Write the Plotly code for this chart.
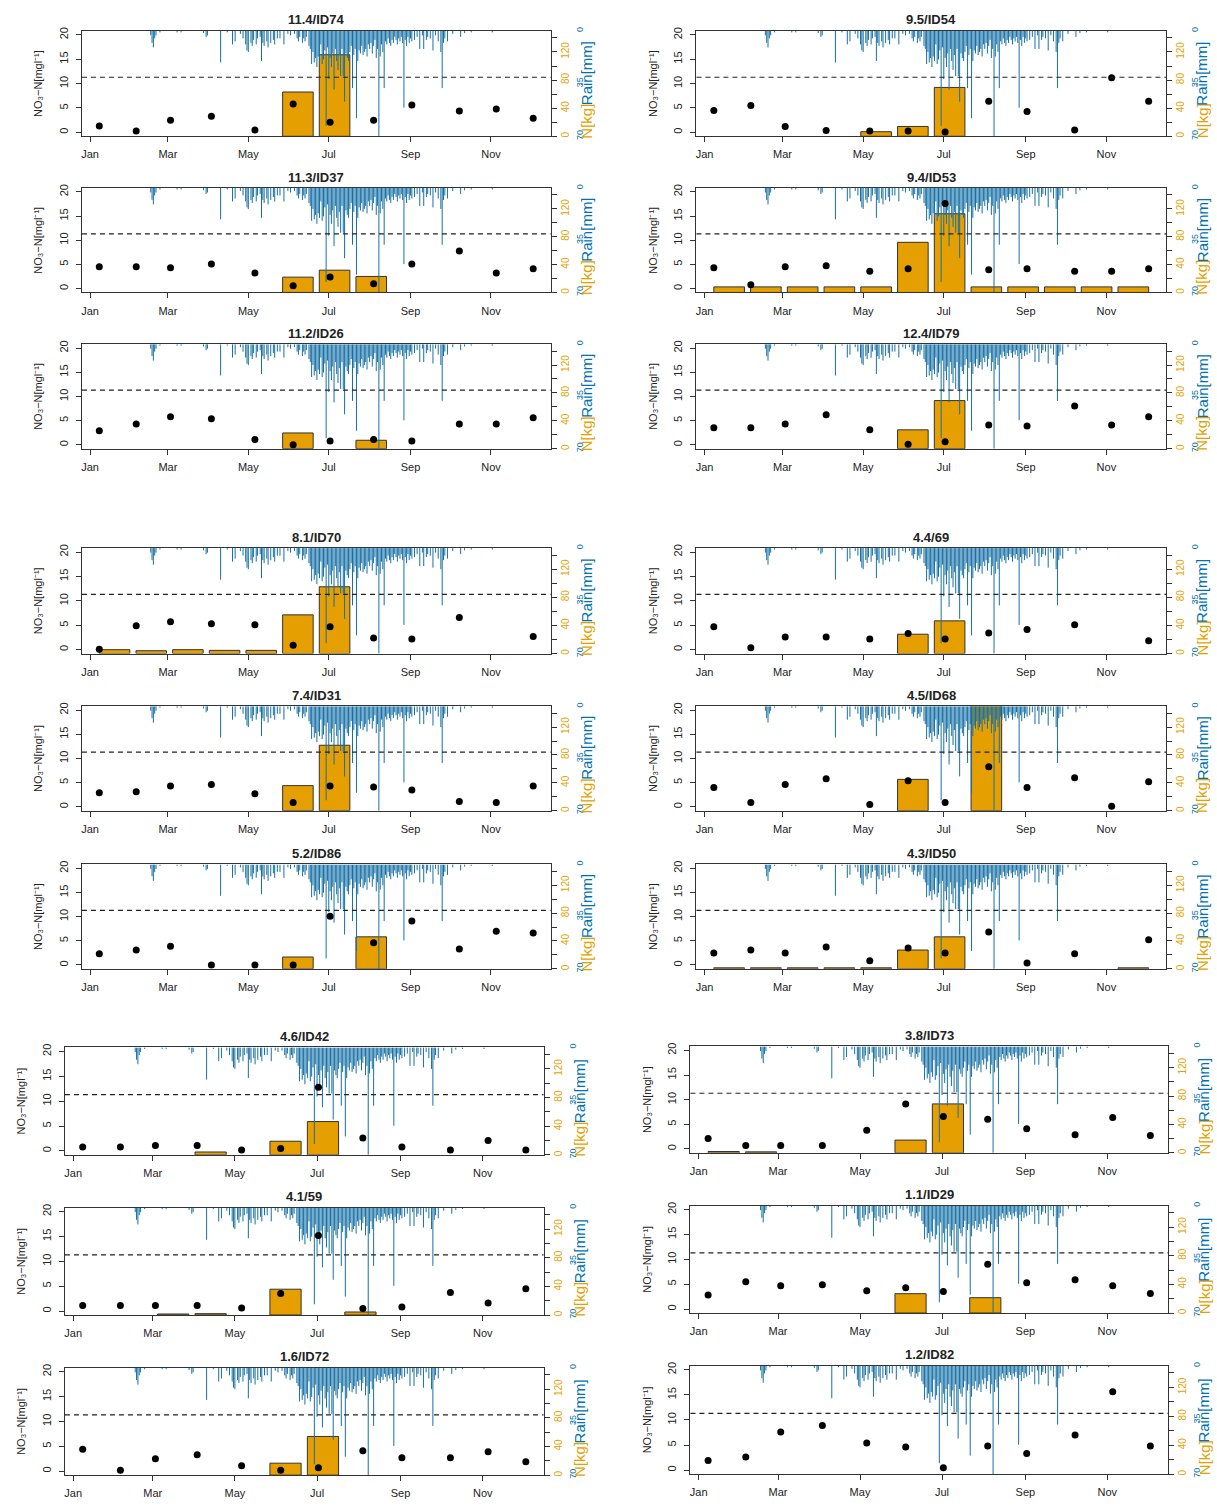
import numpy as np
import pandas as pd
import plotly.graph_objects as go

# ---------------------------------------------------------------- data
# monthly sampling dates (same for every well)
sample_dates = ["2013-01-08", "2013-02-05", "2013-03-03", "2013-04-03", "2013-05-06", "2013-06-04",
                "2013-07-02", "2013-08-04", "2013-09-02", "2013-10-08", "2013-11-05", "2013-12-03"]

# daily rainfall (day of year, mm) - days without rain are omitted
rain_doy = [47, 48, 49, 50, 51, 54, 67, 70, 87, 89, 90,
            100, 105, 109, 111, 115, 117, 119, 120, 121, 123, 124, 125, 127, 128, 130, 131, 132, 133,
            135, 136, 138, 140, 141, 143, 145, 148, 151, 153, 156, 158, 159, 160, 162, 163, 164, 165,
            167, 168, 169, 170, 171, 172, 173, 174, 175, 176, 177, 178, 179, 180, 181, 182, 183, 184,
            185, 186, 187, 188, 189, 190, 191, 192, 193, 194, 195, 196, 197, 198, 199, 200, 201, 202,
            203, 204, 205, 206, 207, 208, 209, 210, 211, 212, 213, 214, 215, 216, 217, 218, 219, 220,
            221, 222, 223, 224, 225, 226, 227, 228, 229, 230, 231, 232, 233, 234, 235, 236, 237, 238,
            239, 240, 241, 242, 243, 244, 245, 247, 249, 251, 253, 254, 256, 257, 259, 261, 263, 265,
            267, 268, 269, 270, 272, 276, 282, 285, 290, 306]
rain_mm = [3, 8, 11, 5, 3, 1, 1, 1, 1.5, 4, 3,
           21, 1, 9, 7, 2, 5, 9, 13, 14, 8, 10, 6, 9, 5, 4, 20, 8, 10,
           7, 11, 8, 6, 9, 5, 5, 9, 2, 3, 2, 5, 7, 4, 8, 5, 7, 4,
           10, 12, 22, 14, 21, 18, 24, 17, 20, 9, 22, 19, 13, 63, 11, 32, 18, 24,
           15, 39, 12, 20, 26, 16, 30, 12, 30, 47, 15, 18, 20, 14, 10, 38, 16, 12,
           58, 20, 13, 15, 10, 16, 14, 12, 17, 9, 12, 8, 15, 10, 6, 18, 12, 70,
           17, 9, 14, 38, 7, 9, 5, 8, 10, 6, 8, 4, 6, 9, 5, 7, 4, 8,
           51, 6, 10, 4, 8, 5, 7, 6, 4, 12, 3, 12, 6, 4, 5, 13, 3, 7,
           14, 38, 8, 5, 7, 2, 4, 1.5, 1, 1]

# NO3-N concentration [mg/l] per sampling date (None = no sample)
no3_id74 = [1.3, 0.3, 2.5, 3.3, 0.5, 5.8, 2.1, 2.5, 5.6, 4.4, 4.8, 2.9]
no3_id54 = [4.5, 5.5, 1.2, 0.4, 0.3, 0.3, 0.1, 6.4, 4.3, 0.5, 11.2, 6.4]
no3_id37 = [4.5, 4.5, 4.3, 5.1, 3.2, 0.6, 2.4, 1.0, 5.1, 7.8, 3.2, 4.1]
no3_id53 = [4.3, 0.8, 4.5, 4.7, 3.6, 4.1, 17.6, 3.9, 4.1, 3.6, 3.6, 4.1]
no3_id26 = [2.9, 4.3, 5.8, 5.4, 1.1, 0.0, 0.8, 1.1, 0.8, 4.3, 4.3, 5.6]
no3_id79 = [3.5, 3.5, 4.3, 6.2, 3.1, 0.1, 0.6, 4.1, 3.9, 8.0, 4.1, 5.8]
no3_id70 = [0.1, 4.9, 5.7, 5.3, 5.1, 0.9, 4.7, 2.4, 2.2, 6.6, None, 2.7]
no3_69 = [4.7, 0.4, 2.6, 2.6, 2.2, 3.3, 2.2, 3.4, 4.1, 5.1, None, 1.8]
no3_id31 = [2.9, 3.1, 4.3, 4.6, 2.7, 0.9, 4.3, 4.1, 3.5, 1.1, 0.9, 4.3]
no3_id68 = [4.0, 0.9, 4.6, 5.8, 0.5, 5.4, 0.9, 8.3, 4.0, 6.0, 0.1, 5.2]
no3_id86 = [2.3, 3.1, 3.9, 0.0, 0.0, 0.0, 10.1, 4.6, 9.1, 3.3, 7.0, 6.6]
no3_id50 = [2.5, 3.1, 2.5, 3.7, 0.9, 3.5, 2.5, 6.8, 0.4, 2.3, None, 5.2]
no3_id42 = [0.8, 0.8, 1.1, 1.1, 0.2, 0.5, 12.8, 2.6, 0.8, 0.2, 2.1, 0.2]
no3_id73 = [2.1, 0.7, 0.7, 0.7, 3.8, 9.1, 6.6, 6.0, 4.1, 2.9, 6.4, 2.7]
no3_59 = [1.1, 1.1, 1.1, 1.1, 0.6, 3.5, 15.2, 0.5, 0.8, 3.7, 1.6, 4.5]
no3_id29 = [2.8, 5.5, 4.7, 4.9, 3.7, 4.3, 3.5, 9.0, 5.3, 5.9, 4.7, 3.1]
no3_id72 = [4.4, 0.2, 2.5, 3.3, 1.1, 0.2, 0.7, 4.1, 2.7, 2.7, 3.9, 1.9]
no3_id82 = [1.9, 2.6, 7.6, 8.9, 5.4, 4.6, 0.5, 4.8, 3.3, 7.0, 15.6, 4.8]

# monthly nitrogen load N [kg] (None = no bar)
_ = None
nkg_id74 = [_, _, _, _, _, 63, 116, _, _, _, _, _]
nkg_id54 = [_, _, _, _, 6.5, 14, 69.5, _, _, _, _, _]
nkg_id37 = [_, _, _, _, _, 22, 32, 23, _, _, _, _]
nkg_id53 = [8, 8, 8, 8, 8, 72, 113, 8, 8, 8, 8, 8]
nkg_id26 = [_, _, _, _, _, 22.5, _, 12, _, _, _, _]
nkg_id79 = [_, _, _, _, _, 27, 69, _, _, _, _, _]
nkg_id70 = [5.5, 4, 5.5, 4.5, 4.5, 55, 95, _, _, _, _, _]
nkg_69 = [_, _, _, _, _, 27.5, 46.5, _, _, _, _, _]
nkg_id31 = [_, _, _, _, _, 36, 94, _, _, _, _, _]
nkg_id68 = [_, _, _, _, _, 45, _, 165, _, _, _, _]
nkg_id86 = [_, _, _, _, _, 17, _, 46, _, _, _, _]
nkg_id50 = [1.5, 1.5, 1.5, 1.5, 1.5, 27, 46, _, _, _, _, 1.5]
nkg_id42 = [_, _, _, 4, _, 19, 46.5, _, _, _, _, _]
nkg_id73 = [1.9, 1.4, _, _, _, 18, 69, _, _, _, _, _]
nkg_59 = [_, _, 1.4, 1.9, _, 36, _, 4.2, _, _, _, _]
nkg_id29 = [_, _, _, _, _, 27, _, 21.4, _, _, _, _]
nkg_id72 = [_, _, _, _, _, 16.7, 54, _, _, _, _, _]
nkg_id82 = [_] * 12

site_titles = ["11.4/ID74", "9.5/ID54", "11.3/ID37", "9.4/ID53", "11.2/ID26", "12.4/ID79",
               "8.1/ID70", "4.4/69", "7.4/ID31", "4.5/ID68", "5.2/ID86", "4.3/ID50",
               "4.6/ID42", "3.8/ID73", "4.1/59", "1.1/ID29", "1.6/ID72", "1.2/ID82"]
site_no3 = [no3_id74, no3_id54, no3_id37, no3_id53, no3_id26, no3_id79,
            no3_id70, no3_69, no3_id31, no3_id68, no3_id86, no3_id50,
            no3_id42, no3_id73, no3_59, no3_id29, no3_id72, no3_id82]
site_nkg = [nkg_id74, nkg_id54, nkg_id37, nkg_id53, nkg_id26, nkg_id79,
            nkg_id70, nkg_69, nkg_id31, nkg_id68, nkg_id86, nkg_id50,
            nkg_id42, nkg_id73, nkg_59, nkg_id29, nkg_id72, nkg_id82]

NO3_LIMIT = 11.3  # drinking-water limit, 50 mg/l nitrate as NO3-N

# ---------------------------------------------------------------- layout (pixels)
W, H = 1217, 1506
FONT = "Liberation Sans Narrow, Liberation Sans, Arial, sans-serif"
ORANGE = "#E69F00"
BLUE = "#0072B2"
RAIN = "#1670a6"
AXC = "#333333"

# plot-box positions: (left, right, top, bottom)
boxes = []
rows_g12 = [(27, 133), (185, 290), (342, 447), (547, 653), (706, 811), (865, 970)]
for top, bot in rows_g12:
    boxes.append((81, 550, top, bot))
    boxes.append((696, 1166, top, bot))
rows_g3_left = [(1049, 1157), (1210, 1318), (1371, 1479)]
rows_g3_right = [(1048, 1155), (1208, 1316), (1369, 1478)]
for (tl, bl), (tr, br) in zip(rows_g3_left, rows_g3_right):
    boxes.append((64, 543, tl, bl))
    boxes.append((690, 1168, tr, br))

# ---------------------------------------------------------------- derived geometry
sample_ts = pd.to_datetime(sample_dates)
first, last = sample_ts.min(), sample_ts.max()
span = last - first
x_range = [first - 0.04 * span, last + 0.04 * span]

# barplot geometry: 12 bars of width 1 with 0.2 spacing over the sampling period
unit = span / 14.2
bar_centers = [first + unit * (1.2 * i + 0.5) for i in range(12)]
bar_width_ms = unit.total_seconds() * 1000

year_start = pd.Timestamp("2013-01-01")
rain_ts = year_start + pd.to_timedelta(np.array(rain_doy) - 1, unit="D")
rx, ry = [], []
for t, v in zip(rain_ts, rain_mm):
    rx += [t, t, None]
    ry += [0, v, None]


def nm(prefix, i):
    return prefix if i == 1 else f"{prefix}{i}"


fig = go.Figure()
layout = dict(
    width=W, height=H, margin=dict(l=0, r=0, t=0, b=0),
    paper_bgcolor="white", plot_bgcolor="white", showlegend=False,
    font=dict(family=FONT, color="#222222"),
    annotations=[], shapes=[],
)

for k, (title, no3, nkg) in enumerate(zip(site_titles, site_no3, site_nkg)):
    left, right, top, bot = boxes[k]
    xi = k + 1
    ya, yb, yc = 3 * k + 1, 3 * k + 2, 3 * k + 3
    xdom = [left / W, right / W]
    ydom = [1 - bot / H, 1 - top / H]

    layout[nm("xaxis", xi)] = dict(
        domain=xdom, anchor=nm("y", yc), type="date", range=x_range,
        tick0="2013-01-01", dtick="M2", tickformat="%b",
        ticks="outside", ticklen=5, tickcolor=AXC, tickfont=dict(size=11, color="#222"),
        showline=True, mirror=True, linecolor=AXC, linewidth=1,
        showgrid=False, zeroline=False, ticklabelstandoff=3,
    )
    # N load axis (right, orange)
    layout[nm("yaxis", ya)] = dict(
        domain=ydom, anchor=nm("x", xi), side="right", range=[0, 150],
        tickvals=[0, 40, 80, 120],
        tickangle=-90, tickfont=dict(size=10, color=ORANGE),
        ticks="outside", ticklen=5, tickcolor=AXC,
        minor=dict(tickmode="linear", tick0=0, dtick=20, ticks="outside", ticklen=5, tickcolor=AXC),
        showgrid=False, zeroline=False, showline=False,
    )
    # rain axis (reversed, right, blue)
    layout[nm("yaxis", yb)] = dict(
        overlaying=nm("y", ya), anchor="free", position=min((right + 22) / W, 1.0),
        side="right", range=[70, 0], tickvals=[0, 35, 70],
        tickangle=-90, tickfont=dict(size=9, color=BLUE), ticks="",
        showgrid=False, zeroline=False, showline=False,
    )
    # NO3-N axis (left)
    layout[nm("yaxis", yc)] = dict(
        overlaying=nm("y", ya), anchor=nm("x", xi), side="left", range=[-0.8, 20.8],
        tickvals=[0, 5, 10, 15, 20], tickangle=-90, tickfont=dict(size=11, color="#222"),
        ticks="outside", ticklen=5, tickcolor=AXC, ticklabelstandoff=4,
        showline=True, mirror=True, linecolor=AXC, linewidth=1,
        showgrid=False, zeroline=False,
        title=dict(text="NO\u2083\u2212N[mgl\u207b\u00b9]", font=dict(size=11), standoff=12),
    )

    fig.add_trace(go.Bar(
        x=bar_centers, y=nkg, width=bar_width_ms,
        marker=dict(color=ORANGE, line=dict(color="#333333", width=1)),
        xaxis=nm("x", xi), yaxis=nm("y", ya),
    ))
    fig.add_trace(go.Scatter(
        x=rx, y=ry, mode="lines", line=dict(color=RAIN, width=1),
        connectgaps=False, xaxis=nm("x", xi), yaxis=nm("y", yb), hoverinfo="skip",
    ))
    fig.add_trace(go.Scatter(
        x=sample_ts, y=no3, mode="markers",
        marker=dict(color="black", size=7),
        xaxis=nm("x", xi), yaxis=nm("y", yc),
    ))

    layout["shapes"].append(dict(
        type="line", xref=f"{nm('x', xi)} domain", x0=0, x1=1,
        yref=nm("y", yc), y0=NO3_LIMIT, y1=NO3_LIMIT,
        line=dict(color="#222222", width=1.2, dash="5px,4px"), layer="above",
    ))
    layout["annotations"].append(dict(
        text=f"<b>{title}</b>", x=(left + right) / 2 / W, y=1 - (top - 11) / H,
        xref="paper", yref="paper", showarrow=False, xanchor="center", yanchor="middle",
        font=dict(size=13, color="#222"),
    ))
    # right-hand axis title: orange "N[kg]" followed upward by blue "Rain[mm]"
    joint_px = top + 0.70 * (bot - top)
    xt = (right + 36) / W
    layout["annotations"].append(dict(
        text="N[kg]", x=xt, y=1 - (joint_px - 2) / H, xref="paper", yref="paper",
        showarrow=False, xanchor="center", yanchor="top", textangle=-90,
        font=dict(size=15, color=ORANGE), borderpad=0,
    ))
    layout["annotations"].append(dict(
        text="Rain[mm]", x=xt, y=1 - (joint_px + 2) / H, xref="paper", yref="paper",
        showarrow=False, xanchor="center", yanchor="bottom", textangle=-90,
        font=dict(size=15, color=BLUE), borderpad=0,
    ))

fig.update_layout(**layout)
fig.write_html("out.html")
